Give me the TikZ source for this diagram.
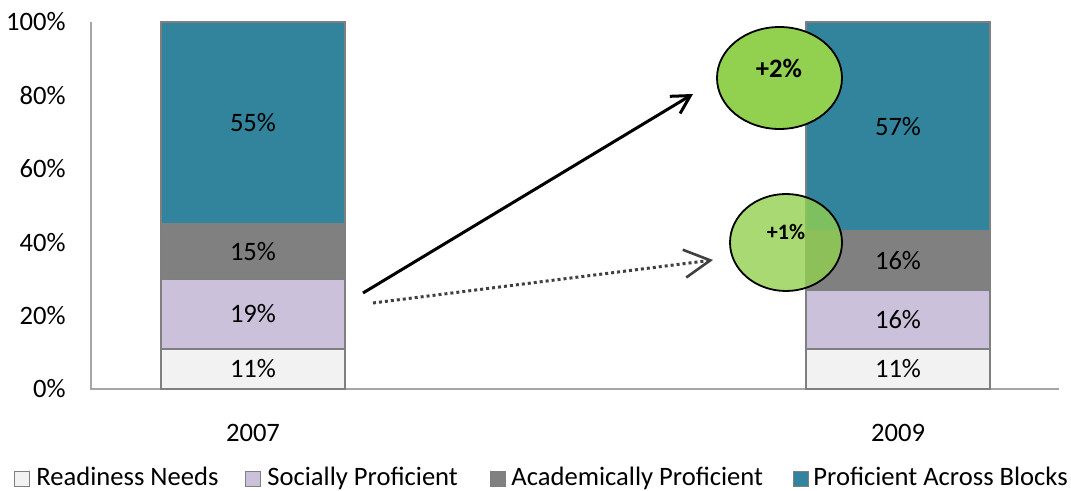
\documentclass[tikz,border=0pt]{standalone}
\usepackage{fontspec}
\setmainfont{Carlito}
\usetikzlibrary{math,arrows.meta,shapes.geometric}

\definecolor{readiness}{HTML}{F2F2F2}
\definecolor{social}{HTML}{CCC1DA}
\definecolor{academic}{HTML}{808080}
\definecolor{across}{HTML}{31849B}
\definecolor{barline}{HTML}{7F7F7F}
\definecolor{bubble}{HTML}{92D050}
\definecolor{dotline}{HTML}{404040}

\begin{document}
\begin{tikzpicture}[x=0.5pt,y=-0.5pt,
  seg/.style={draw=barline, line width=1pt},
  txt/.style={font=\fontsize{13.3}{15}\selectfont, inner sep=0pt},
  keybox/.style={draw=barline, line width=0.8pt, minimum size=7.5pt, inner sep=0pt},
  bubblenode/.style={draw=black, line width=0.9pt, ellipse, fill=bubble, inner sep=0pt}]

\tikzmath{
\base = 389;
\unit = 3.67;
}

\useasboundingbox (0,0) rectangle (1071,491);

% axes
\draw[barline!70, line width=1pt] (91,22) -- (91,\base) -- (1059,\base);

\node[txt, anchor=east] (t0) at (66,\base) {0\%};
\node[txt, anchor=east] (t20) at (66,{\base-20*\unit}) {20\%};
\node[txt, anchor=east] (t40) at (66,{\base-40*\unit}) {40\%};
\node[txt, anchor=east] (t60) at (66,{\base-60*\unit}) {60\%};
\node[txt, anchor=east] (t80) at (66,{\base-80*\unit}) {80\%};
\node[txt, anchor=east] (t100) at (66,{\base-100*\unit}) {100\%};

% 2007
\filldraw[seg, fill=readiness] (161,\base) rectangle (345,{\base-11*\unit});
\filldraw[seg, fill=social] (161,{\base-11*\unit}) rectangle (345,{\base-30*\unit});
\filldraw[seg, fill=academic] (161,{\base-30*\unit}) rectangle (345,{\base-45*\unit});
\filldraw[seg, fill=across] (161,{\base-45*\unit}) rectangle (345,{\base-100*\unit});

\node[txt] (r07) at (253,{\base-5.5*\unit}) {11\%};
\node[txt] (s07) at (253,{\base-20.5*\unit}) {19\%};
\node[txt] (a07) at (253,{\base-37.5*\unit}) {15\%};
\node[txt] (p07) at (253,{\base-72.5*\unit}) {55\%};
\node[txt] (y07) at (253,433) {2007};

% 2009
\filldraw[seg, fill=readiness] (806,\base) rectangle (990,{\base-11*\unit});
\filldraw[seg, fill=social] (806,{\base-11*\unit}) rectangle (990,{\base-27*\unit});
\filldraw[seg, fill=academic] (806,{\base-27*\unit}) rectangle (990,{\base-43*\unit});
\filldraw[seg, fill=across] (806,{\base-43*\unit}) rectangle (990,{\base-100*\unit});

\node[txt] (r09) at (898,{\base-5.5*\unit}) {11\%};
\node[txt] (s09) at (898,{\base-19*\unit}) {16\%};
\node[txt] (a09) at (898,{\base-35*\unit}) {16\%};
\node[txt] (p09) at (898,{\base-71.5*\unit}) {57\%};
\node[txt] (y09) at (898,433) {2009};

% bubbles
\node[bubblenode, minimum width=62.5pt, minimum height=51pt] (up) at (779.5,78) {};
\node[txt, font=\fontsize{13.3}{15}\bfseries] (uplbl) at (779,68) {+2\%};
\node[bubblenode, fill opacity=0.8, minimum width=56pt, minimum height=48.5pt] (mid) at (786,242.5) {};
\node[txt, font=\fontsize{11}{13}\bfseries] (midlbl) at (786,232) {+1\%};

% arrows
\coordinate (solidA) at (363,293);
\coordinate (solidB) at (693,94);
\coordinate (dotA) at (373,303);
\coordinate (dotB) at (713,260);
\draw[line width=1.5pt, -{Straight Barb[length=9pt,width=10pt]}] (solidA) -- (solidB);
\draw[dotline, line width=1.5pt, dash pattern=on 1.5pt off 1.5pt,
  -{Straight Barb[length=13pt,width=14pt,line width=1.3pt]}] (dotA) -- (dotB);

% legend
\node[keybox, fill=readiness] (k1) at (22,479) {};
\node[txt, anchor=base west] (l1) at (36,486) {Readiness Needs};
\node[keybox, fill=social] (k2) at (253,479) {};
\node[txt, anchor=base west] (l2) at (267,486) {Socially Proficient};
\node[keybox, fill=academic] (k3) at (498,479) {};
\node[txt, anchor=base west] (l3) at (511,486) {Academically Proficient};
\node[keybox, fill=across] (k4) at (801,479) {};
\node[txt, anchor=base west] (l4) at (813,486) {Proficient Across Blocks};

\end{tikzpicture}
\end{document}
